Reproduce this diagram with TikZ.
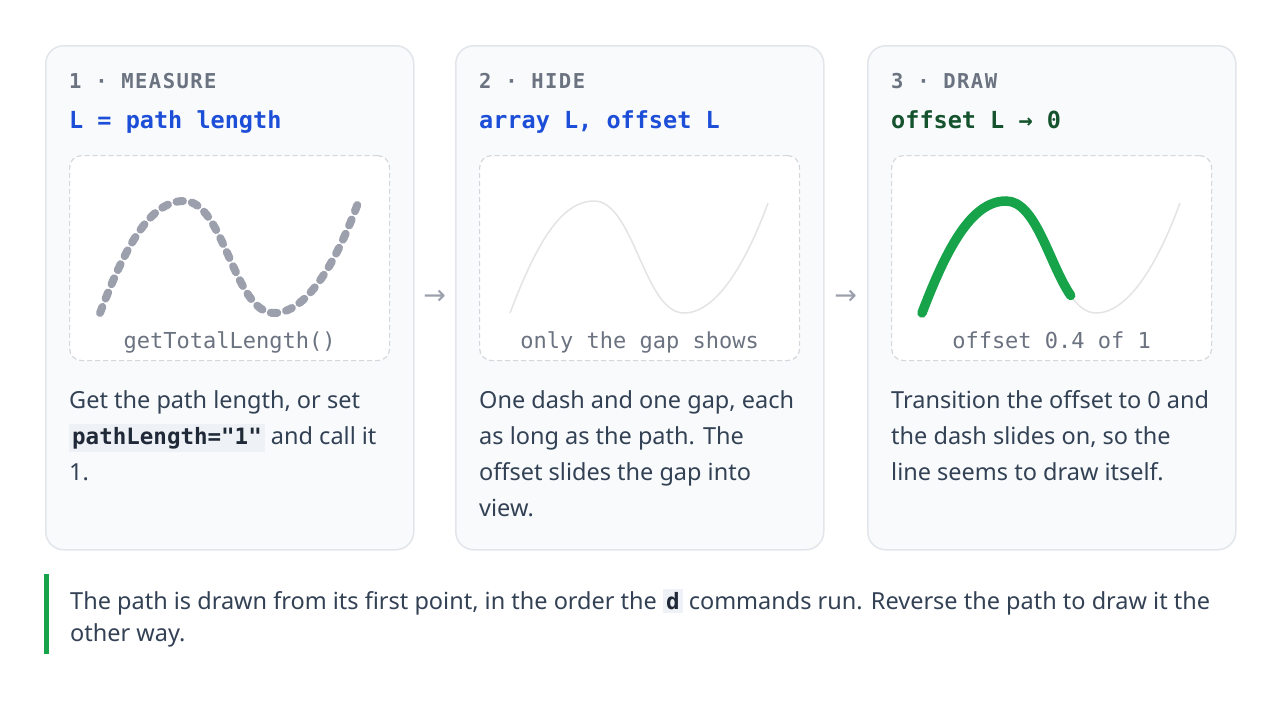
\documentclass[tikz,border=0pt]{standalone}
\usepackage{fontspec}
\setmainfont{Noto Sans}
\setmonofont{DejaVu Sans Mono}
\newfontfamily\capsmono[LetterSpace=7]{DejaVu Sans Mono}
\newfontfamily\symfont{DejaVu Sans}
\usetikzlibrary{positioning,calc}

\definecolor{cardfill}{HTML}{F8FAFC}
\definecolor{cardline}{HTML}{E2E5EA}
\definecolor{boxline}{HTML}{D4D7DC}
\definecolor{hdrgray}{HTML}{6B7280}
\definecolor{titleblue}{HTML}{1D4ED8}
\definecolor{titlegreen}{HTML}{14532D}
\definecolor{bodytext}{HTML}{334155}
\definecolor{codebg}{HTML}{EEF1F5}
\definecolor{codetext}{HTML}{1F2937}
\definecolor{dashgray}{HTML}{9CA0AD}
\definecolor{faintline}{HTML}{E3E4E6}
\definecolor{drawgreen}{HTML}{16A34A}

\tikzset{
    cardbox/.style={draw=cardline, line width=1.5pt, fill=cardfill, rounded corners=18pt,
        minimum width=368pt, minimum height=504pt, anchor=north west, inner sep=0pt},
    sketchbox/.style={draw=boxline, dashed, dash pattern=on 5pt off 3pt, line width=1.2pt,
        fill=white, rounded corners=12pt, minimum width=320pt, minimum height=205pt,
        anchor=north west, inner sep=0pt},
    hdrtext/.style={anchor=base west, inner sep=0pt, text=hdrgray,
        font=\capsmono\bfseries\fontsize{20.5}{24}\selectfont},
    titletext/.style={anchor=base west, inner sep=0pt, text=titleblue,
        font=\ttfamily\bfseries\fontsize{23.5}{28}\selectfont},
    captext/.style={anchor=base, inner sep=0pt, text=hdrgray,
        font=\ttfamily\fontsize{22}{26}\selectfont},
    bodytext/.style={anchor=north west, inner sep=0pt, align=left, text=bodytext,
        font=\fontsize{23.5}{36}\selectfont},
    flowarrow/.style={inner sep=0pt, text=dashgray, font=\symfont\fontsize{27}{27}\selectfont},
    notebar/.style={fill=drawgreen, minimum width=4.5pt, minimum height=80pt,
        anchor=north west, inner sep=0pt},
    notetext/.style={anchor=north west, inner sep=0pt, align=left, text=bodytext,
        font=\fontsize{23.5}{32}\selectfont},
}

% inline code chip
\newcommand{\codebit}[1]{{\setlength{\fboxsep}{3pt}\colorbox{codebg}{\ttfamily\bfseries\fontsize{22.5}{22.5}\selectfont\color{codetext}#1}}}

% the sample path, in sketch box coordinates
\newcommand{\wave}{(31,158) .. controls (55,95) and (80,46) .. (115,46)
    .. controls (155,46) and (165,158) .. (205,158)
    .. controls (240,158) and (270,100) .. (289,48)}

% #1 id, #2 header, #3 title colour, #4 title, #5 caption, #6 body
\newcommand{\stepcard}[6]{
    \node[cardbox] (card#1) at (0,0) {};
    \node[hdrtext] (hdr#1) at (24,43) {#2};
    \node[titletext, text=#3] (title#1) at (24,83) {#4};
    \node[sketchbox] (sketch#1) at (24,110) {};
    \node[captext] (cap#1) at ([yshift=13pt]sketch#1.south) {#5};
    \node[bodytext] (body#1) at (24,345) {#6};
}

\begin{document}
\begin{tikzpicture}[x=1pt, y=-1pt]
    \fill[white] (0,0) rectangle (1280,702);
    \useasboundingbox (0,0) rectangle (1280,702);

    % Step 1: measure the path
    \begin{scope}[shift={(45,45)}]
        \stepcard{1}{1 · MEASURE}{titleblue}{L = path length}{getTotalLength()}
            {Get the path length, or set\\\codebit{pathLength="1"} and call it\\1.}
        \begin{scope}[shift={(24,110)}]
            \draw[dashgray, line width=8pt, line cap=round, dash pattern=on 6.5pt off 9pt] \wave;
        \end{scope}
    \end{scope}

    % Step 2: hide it behind the gap
    \begin{scope}[shift={(455,45)}]
        \stepcard{2}{2 · HIDE}{titleblue}{array L, offset L}{only the gap shows}
            {One dash and one gap, each\\as long as the path. The\\offset slides the gap into\\view.}
        \begin{scope}[shift={(24,110)}]
            \draw[faintline, line width=1.5pt] \wave;
        \end{scope}
    \end{scope}

    % Step 3: slide the dash back on
    \begin{scope}[shift={(867,45)}]
        \stepcard{3}{3 · DRAW}{titlegreen}{offset L → 0}{offset 0.4 of 1}
            {Transition the offset to 0 and\\the dash slides on, so the\\line seems to draw itself.}
        \begin{scope}[shift={(24,110)}]
            \draw[faintline, line width=1.5pt] \wave;
            \draw[drawgreen, line width=9.5pt, line cap=round]
                (31,158) .. controls (55,95) and (80,46) .. (115,46)
                .. controls (145,46) and (158.1,109) .. (179.7,140.5);
        \end{scope}
    \end{scope}

    % Arrows between the steps
    \node[flowarrow] (arr12) at ($(card1.east)!0.5!(card2.west)$) {→};
    \node[flowarrow] (arr23) at ($(card2.east)!0.5!(card3.west)$) {→};

    % Note under the cards
    \node[notebar] (bar) at (44,574) {};
    \node[notetext] (note) at (70,589)
        {The path is drawn from its first point, in the order the \codebit{d} commands run. Reverse the path to draw it the\\other way.};
\end{tikzpicture}
\end{document}
